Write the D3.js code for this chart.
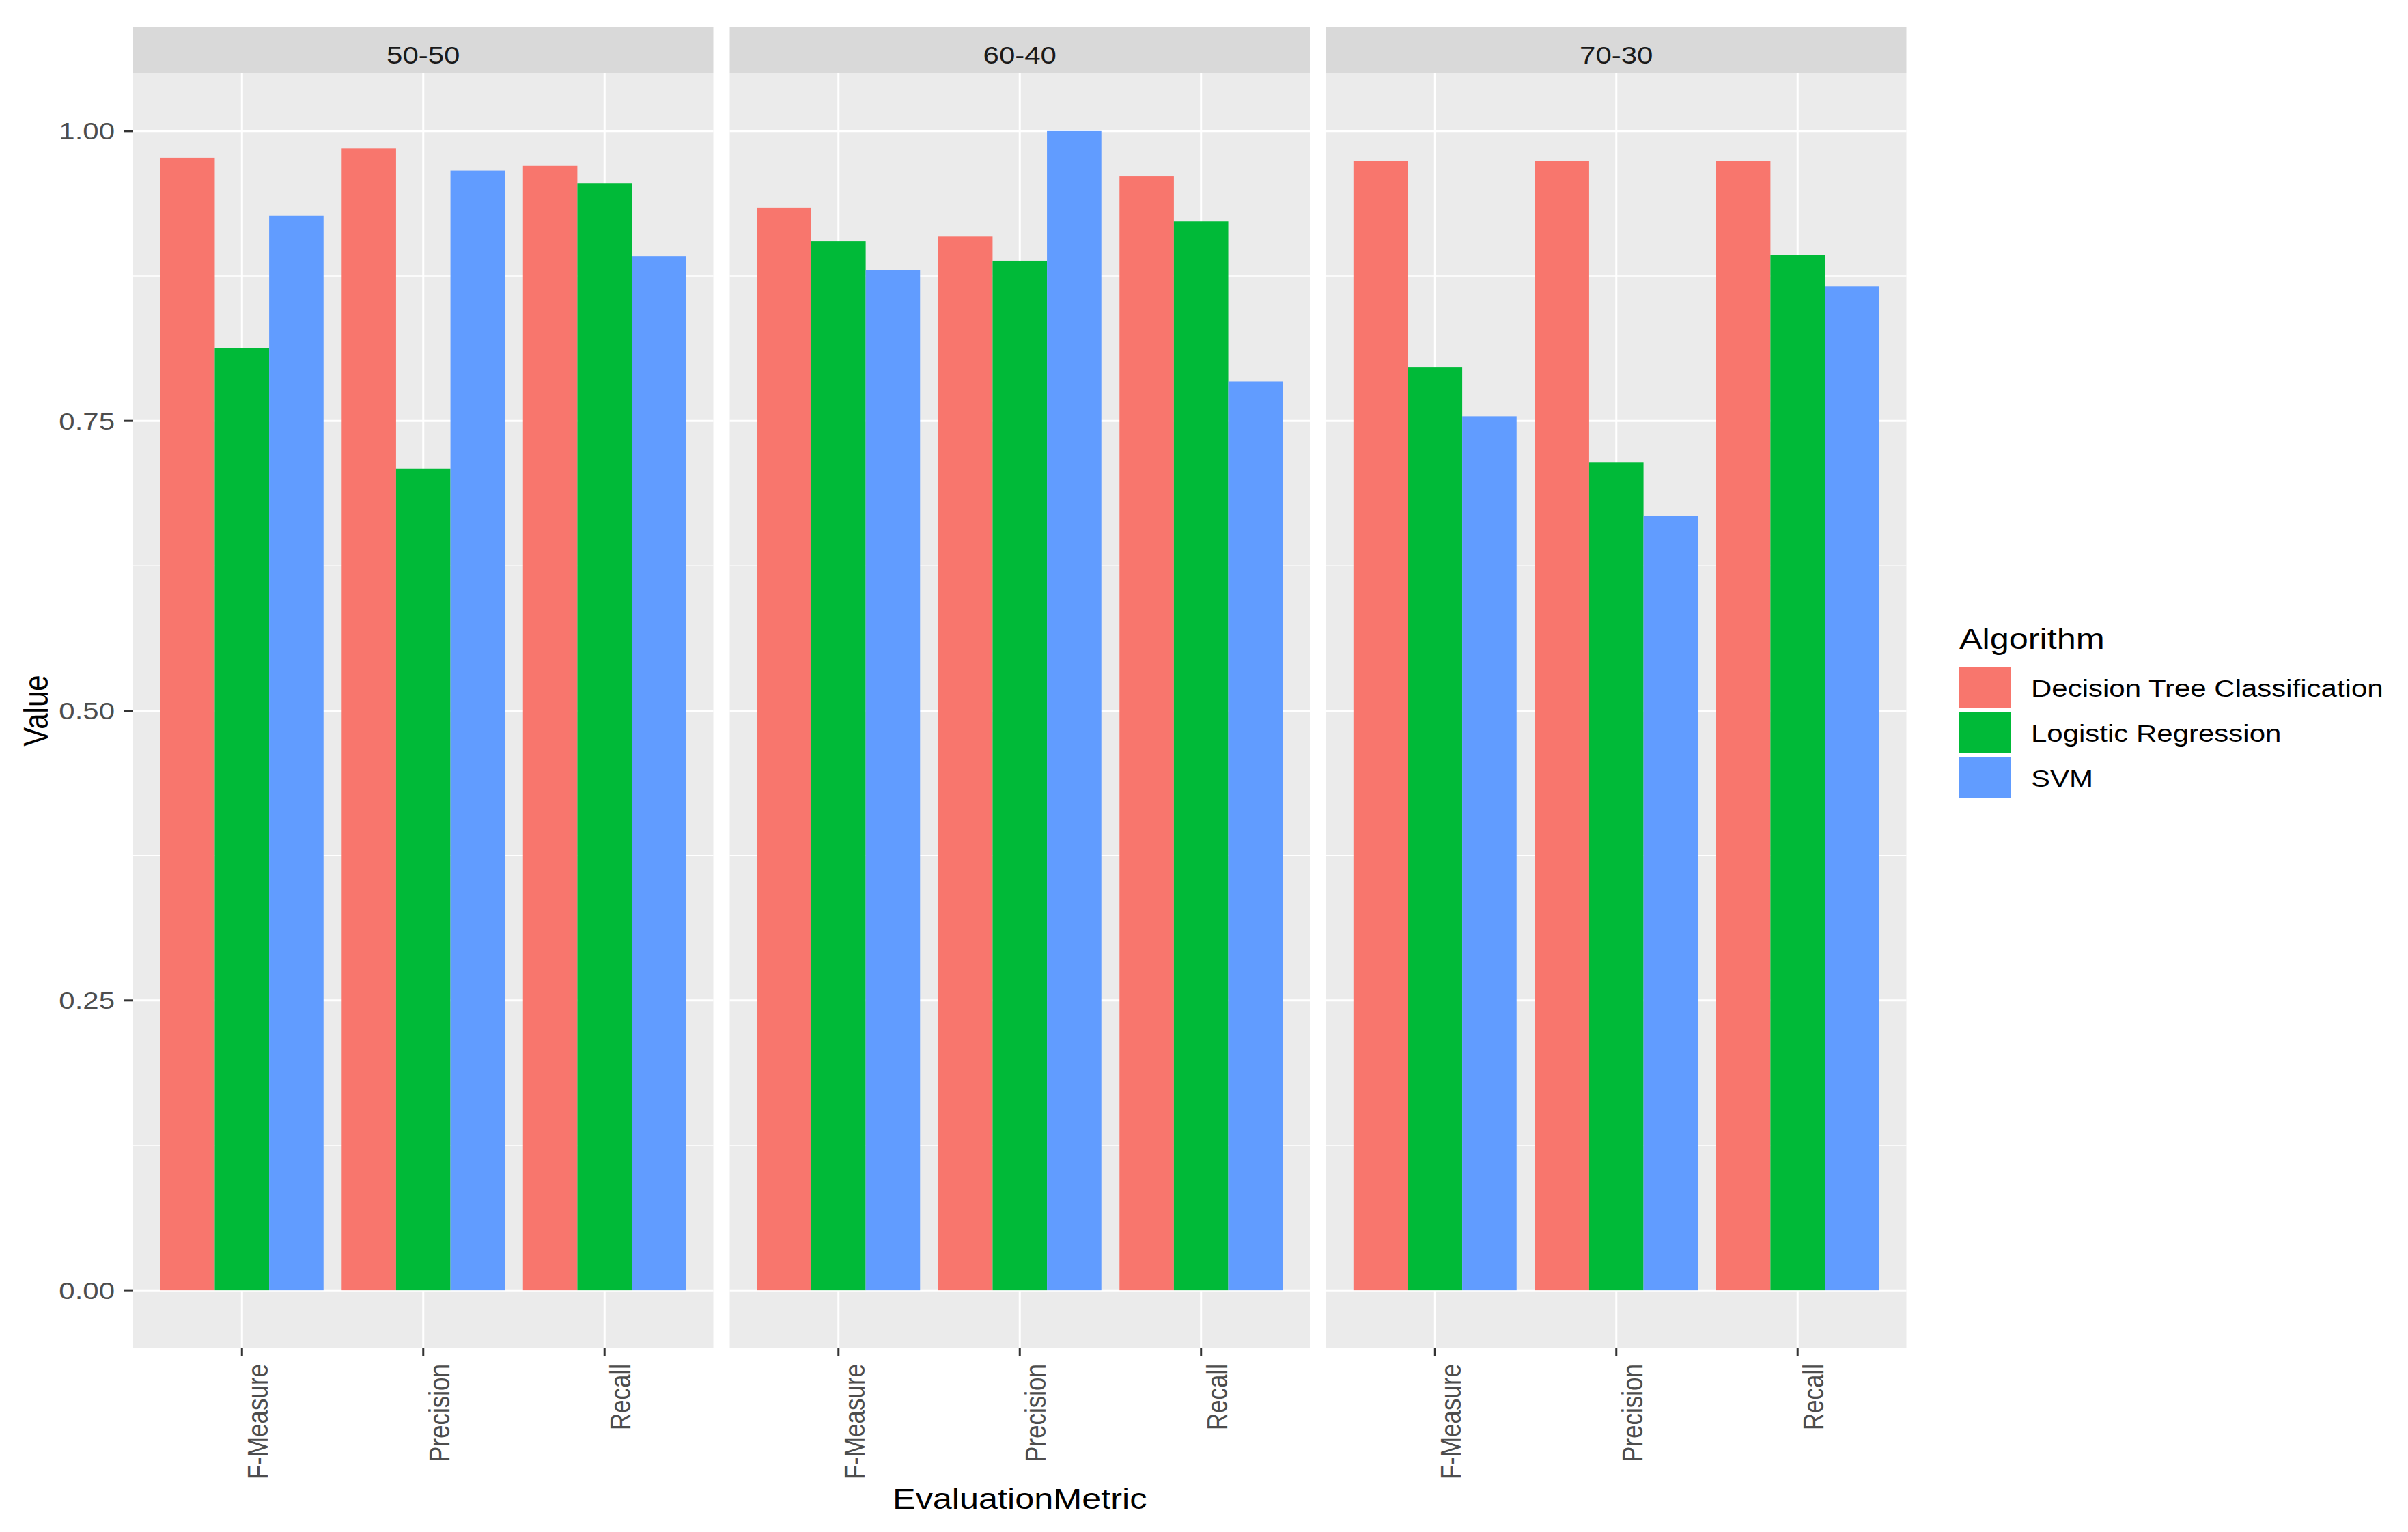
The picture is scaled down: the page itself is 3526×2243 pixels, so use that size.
<!DOCTYPE html>
<html><head><meta charset="utf-8">
<script src="https://cdn.jsdelivr.net/npm/d3@7"></script>
<style>html,body{margin:0;padding:0;background:#fff;} svg{display:block;}</style>
</head><body><div id="chart"></div>
<script>
// ---- data ----
const splits = ["50-50", "60-40", "70-30"];
const metrics = ["F-Measure", "Precision", "Recall"];
const algorithms = ["Decision Tree Classification", "Logistic Regression", "SVM"];
const algColors = ["#F8766D", "#00BA38", "#619CFF"];
// values per algorithm, ordered split x metric (F-Measure, Precision, Recall)
const decisionTree = [0.977, 0.985, 0.970, 0.934, 0.909, 0.961, 0.974, 0.974, 0.974];
const logisticReg  = [0.813, 0.709, 0.955, 0.905, 0.888, 0.922, 0.796, 0.714, 0.893];
const svm          = [0.927, 0.966, 0.892, 0.880, 1.000, 0.784, 0.754, 0.668, 0.866];
const yTicks = [0, 0.25, 0.5, 0.75, 1.0];
const yTickLabels = ["0.00", "0.25", "0.50", "0.75", "1.00"];
const yMinor = [0.125, 0.375, 0.625, 0.875];
const xTitle = "EvaluationMetric";
const yTitle = "Value";
const legendTitle = "Algorithm";

const seriesVals = [decisionTree, logisticReg, svm];
const rows = [];
splits.forEach((s, si) => metrics.forEach((m, mi) => algorithms.forEach((a, ai) => {
  rows.push({split: s, metric: m, alg: a, value: seriesVals[ai][si * 3 + mi]});
})));

// ---- layout ----
const W = 3526, H = 2243;
const SX = 1.2;           // horizontal text stretch of the reference
const FS = 35, FL = 42;   // small / large font sizes
const FONT = "'Liberation Sans', Arial, Helvetica, sans-serif";
const stripTop = 40, panelTop = 107, panelBottom = 1974;
const gap = 24, bw = 849.5, left0 = 195;

const svg = d3.select("#chart").append("svg")
  .attr("width", W).attr("height", H)
  .style("font-family", FONT);
svg.append("rect").attr("width", W).attr("height", H).attr("fill", "#fff");

const xPanel = d3.scaleBand().domain(splits)
  .range([left0, left0 + 3 * bw + 2 * gap]).paddingInner(gap / (bw + gap)).paddingOuter(0);
const y = d3.scaleLinear().domain([-0.05, 1.05]).range([panelBottom, panelTop]);

function sText(parent, x, yy, txt, opts = {}) {
  const rot = opts.rotate ? ` rotate(${opts.rotate})` : "";
  return parent.append("text")
    .attr("transform", `translate(${x},${yy}) scale(${SX},1)${rot}`)
    .attr("font-size", opts.size || FS)
    .attr("fill", opts.fill || "#000")
    .attr("text-anchor", opts.anchor || "start")
    .attr("dy", opts.dy || null)
    .text(txt);
}

splits.forEach(split => {
  const px = xPanel(split);
  const pw = xPanel.bandwidth();
  const g = svg.append("g");
  // strip
  g.append("rect").attr("x", px).attr("y", stripTop).attr("width", pw)
    .attr("height", panelTop - stripTop).attr("fill", "#D9D9D9");
  sText(g, px + pw / 2, 93, split, {anchor: "middle", fill: "#1A1A1A"});
  // panel
  g.append("rect").attr("x", px).attr("y", panelTop).attr("width", pw)
    .attr("height", panelBottom - panelTop).attr("fill", "#EBEBEB");
  const xm = d3.scaleBand().domain(metrics).range([px, px + pw])
    .paddingInner(0.1).paddingOuter(0.15);
  const xa = d3.scaleBand().domain(algorithms).range([0, xm.bandwidth()]);
  const color = d3.scaleOrdinal().domain(algorithms).range(algColors);
  // grid
  g.selectAll(".minor").data(yMinor).join("line")
    .attr("x1", px).attr("x2", px + pw).attr("y1", d => y(d)).attr("y2", d => y(d))
    .attr("stroke", "#fff").attr("stroke-width", 1.5);
  g.selectAll(".major").data(yTicks).join("line")
    .attr("x1", px).attr("x2", px + pw).attr("y1", d => y(d)).attr("y2", d => y(d))
    .attr("stroke", "#fff").attr("stroke-width", 3);
  g.selectAll(".vmajor").data(metrics).join("line")
    .attr("x1", d => xm(d) + xm.bandwidth() / 2).attr("x2", d => xm(d) + xm.bandwidth() / 2)
    .attr("y1", panelTop).attr("y2", panelBottom)
    .attr("stroke", "#fff").attr("stroke-width", 3);
  // bars
  g.selectAll(".bar").data(rows.filter(r => r.split === split)).join("rect")
    .attr("x", d => xm(d.metric) + xa(d.alg))
    .attr("width", xa.bandwidth())
    .attr("y", d => y(d.value))
    .attr("height", d => y(0) - y(d.value))
    .attr("fill", d => color(d.alg));
  // x ticks + labels
  metrics.forEach(m => {
    const cx = xm(m) + xm.bandwidth() / 2;
    g.append("line").attr("x1", cx).attr("x2", cx).attr("y1", panelBottom).attr("y2", panelBottom + 12)
      .attr("stroke", "#333333").attr("stroke-width", 3);
    sText(g, cx, 1997, m, {rotate: -90, anchor: "end", fill: "#4D4D4D", dy: "0.9em"});
  });
});

// y axis ticks and labels (left of first panel)
const ya = svg.append("g");
yTicks.forEach((t, i) => {
  ya.append("line").attr("x1", left0 - 14).attr("x2", left0).attr("y1", y(t)).attr("y2", y(t))
    .attr("stroke", "#333333").attr("stroke-width", 3);
  sText(ya, 168, y(t), yTickLabels[i], {anchor: "end", fill: "#4D4D4D", dy: "0.36em"});
});

// axis titles
sText(svg, 70, (panelTop + panelBottom) / 2, yTitle, {rotate: -90, anchor: "middle", size: FL});
sText(svg, (left0 + xPanel.range()[1]) / 2, 2209, xTitle, {anchor: "middle", size: FL});

// legend
const lg = svg.append("g");
const lx = 2869, ly0 = 977, step = 66, keyW = 76, keyH = 60;
sText(lg, lx, 950, legendTitle, {size: FL});
algorithms.forEach((a, i) => {
  lg.append("rect").attr("x", lx).attr("y", ly0 + i * step).attr("width", keyW).attr("height", keyH)
    .attr("fill", algColors[i]);
  sText(lg, 2974, ly0 + i * step + keyH / 2, a, {dy: "0.36em"});
});
</script>
</body></html>
